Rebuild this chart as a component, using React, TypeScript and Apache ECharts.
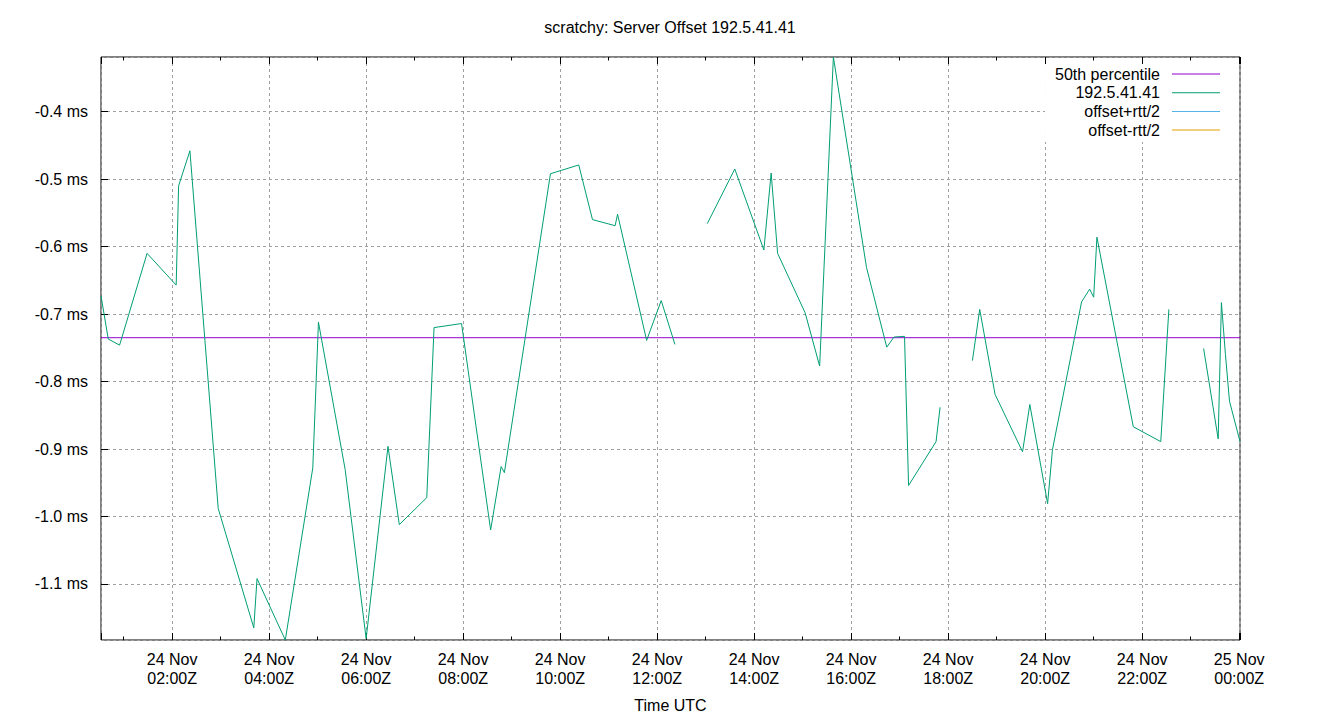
import React, { useEffect, useRef } from "react";
import * as echarts from "echarts";

const chartTitle = "scratchy: Server Offset 192.5.41.41";
const xAxisName = "Time UTC";
const seriesNames = ["50th percentile", "192.5.41.41", "offset+rtt/2", "offset-rtt/2"];
const seriesColors = ["#9400d3", "#009e73", "#56b4e9", "#e69f00"];

// times are UTC "HH:MM" counted from 24 Nov 00:00 ("24:01" = 25 Nov 00:01); null value = gap
const offsetTimes = [
  "00:32", "00:41", "00:55", "01:29", "02:05", "02:08", "02:22", "02:57", "03:41", "03:45",
  "04:20", "04:54", "05:01", "05:34", "06:00", "06:27", "06:41", "07:15", "07:24", "07:58",
  "08:34", "08:47", "08:51", "09:48", "10:23", "10:40", "11:08", "11:11", "11:47", "12:05",
  "12:22", "12:40",
  "13:02", "13:36", "14:12", "14:21", "14:29", "15:03", "15:21", "15:38", "16:19", "16:44",
  "16:53", "17:06", "17:11", "17:45", "17:50", "18:10",
  "18:30", "18:39", "18:58", "19:32", "19:41", "20:03", "20:09", "20:45", "20:55", "21:00",
  "21:04", "21:49", "22:23", "22:33", "22:55",
  "23:16", "23:34", "23:38", "23:43", "23:48", "24:01",
];
const offsetValues = [
  -0.673, -0.737, -0.746, -0.610, -0.657, -0.510, -0.458, -0.988, -1.165, -1.092,
  -1.183, -0.928, -0.712, -0.930, -1.181, -0.896, -1.012, -0.972, -0.720, -0.714,
  -1.020, -0.926, -0.935, -0.492, -0.479, -0.560, -0.569, -0.552, -0.739, -0.680,
  -0.745, null,
  -0.566, -0.485, -0.605, -0.491, -0.610, -0.698, -0.777, -0.319, -0.631, -0.749,
  -0.734, -0.733, -0.954, -0.889, -0.838, null,
  -0.769, -0.693, -0.819, -0.904, -0.834, -0.981, -0.901, -0.682, -0.663, -0.675,
  -0.586, -0.867, -0.889, -0.693, null,
  -0.751, -0.885, -0.683, -0.760, -0.829, -0.889,
];
const medianTimes = ["00:32", "24:01"];
const medianValues = [-0.735, -0.735];
const plusTimes: string[] = [];
const plusValues: number[] = [];
const minusTimes: string[] = [];
const minusValues: number[] = [];

const xMinTime = "00:32";
const xMaxTime = "24:01";
const yMin = -1.183;
const yMax = -0.319;

const toMin = (t: string) => {
  const [h, m] = t.split(":").map(Number);
  return h * 60 + m;
};
const pairs = (ts: string[], vs: (number | null)[]) =>
  ts.map((t, i) => [toMin(t), vs[i] === null ? "-" : vs[i]]);

const FONT = "'Liberation Sans', Arial, sans-serif";

export default function App() {
  const ref = useRef<HTMLDivElement>(null);
  useEffect(() => {
    if (!ref.current) return;
    const chart = echarts.init(ref.current, undefined, { renderer: "svg" });
    const xMin = toMin(xMinTime);
    const xMax = toMin(xMaxTime);
    const fmtX = (v: number) => {
      const day = 24 + Math.floor(v / 1440);
      const r = ((v % 1440) + 1440) % 1440;
      const hh = String(Math.floor(r / 60)).padStart(2, "0");
      const mm = String(Math.round(r % 60)).padStart(2, "0");
      return `${day} Nov\n${hh}:${mm}Z`;
    };
    const tickStyle = { color: "#000", width: 1 };
    const mk = (i: number, data: any[]) => ({
      name: seriesNames[i],
      type: "line",
      data,
      symbol: "none",
      showSymbol: false,
      connectNulls: false,
      lineStyle: { color: seriesColors[i], width: 1 },
      itemStyle: { color: seriesColors[i] },
      z: 2,
    });
    chart.setOption({
      animation: false,
      textStyle: { fontFamily: FONT },
      title: {
        text: chartTitle,
        left: "center",
        top: 14,
        textStyle: { fontFamily: FONT, fontSize: 16, fontWeight: "normal", color: "#000" },
      },
      legend: {
        orient: "vertical",
        right: 101,
        top: 58,
        align: "right",
        backgroundColor: "#fff",
        padding: [8, 19, 4, 10],
        itemWidth: 48,
        itemHeight: 1,
        itemGap: 2.7,
        z: 3,
        formatter: "{a|{name}}",
        textStyle: {
          fontFamily: FONT,
          fontSize: 16,
          color: "#000",
          rich: { a: { width: 140, align: "right", padding: [0, 7, 0, 0], fontSize: 16, fontFamily: FONT } },
        },
        data: seriesNames.map((n, i) => ({ name: n, icon: "rect", itemStyle: { color: seriesColors[i] } })),
        itemStyle: { borderWidth: 0 },
      },
      grid: {
        left: 101,
        right: 100,
        top: 57,
        bottom: 80,
        show: true,
        borderColor: "#000",
        borderWidth: 1,
        backgroundColor: "transparent",
      },
      xAxis: [
        {
          type: "value",
          min: xMin,
          max: xMax,
          splitNumber: 12,
          minInterval: 120,
          maxInterval: 120,
          name: xAxisName,
          nameLocation: "middle",
          nameGap: 57,
          nameTextStyle: { fontFamily: FONT, fontSize: 16, color: "#000" },
          axisLine: { show: false },
          axisTick: { show: true, inside: true, length: 7, lineStyle: tickStyle },
          minorTick: { show: true, splitNumber: 2, length: 3.5, lineStyle: tickStyle },
          axisLabel: {
            show: true,
            interval: 0,
            showMinLabel: false,
            showMaxLabel: false,
            margin: 10,
            formatter: fmtX,
            fontFamily: FONT,
            fontSize: 16,
            lineHeight: 19,
            color: "#000",
          },
          splitLine: { show: true, lineStyle: { color: "#a0a0a0", width: 1, type: [3, 3] } },
        },
        {
          type: "value",
          position: "top",
          min: xMin,
          max: xMax,
          splitNumber: 12,
          minInterval: 120,
          maxInterval: 120,
          z: 5,
          axisLine: { show: false },
          axisTick: { show: true, inside: true, length: 7, lineStyle: tickStyle },
          minorTick: { show: true, splitNumber: 2, length: 3.5, lineStyle: tickStyle },
          axisLabel: { show: false },
          splitLine: { show: false },
        },
      ],
      yAxis: {
        type: "value",
        min: yMin,
        max: yMax,
        splitNumber: 8,
        axisLine: { show: false },
        axisTick: { show: true, inside: true, length: 7, lineStyle: tickStyle },
        axisLabel: {
          showMinLabel: false,
          showMaxLabel: false,
          margin: 13,
          formatter: (v: number) => `${v.toFixed(1)} ms`,
          fontFamily: FONT,
          fontSize: 16,
          color: "#000",
        },
        splitLine: { show: true, lineStyle: { color: "#a0a0a0", width: 1, type: [3, 3] } },
      },
      series: [
        mk(0, pairs(medianTimes, medianValues)),
        mk(1, pairs(offsetTimes, offsetValues)),
        mk(2, pairs(plusTimes, plusValues)),
        mk(3, pairs(minusTimes, minusValues)),
      ],
    });
    return () => chart.dispose();
  }, []);
  return <div ref={ref} style={{ width: 1340, height: 720, position: "absolute", left: 0, top: 0 }} />;
}
